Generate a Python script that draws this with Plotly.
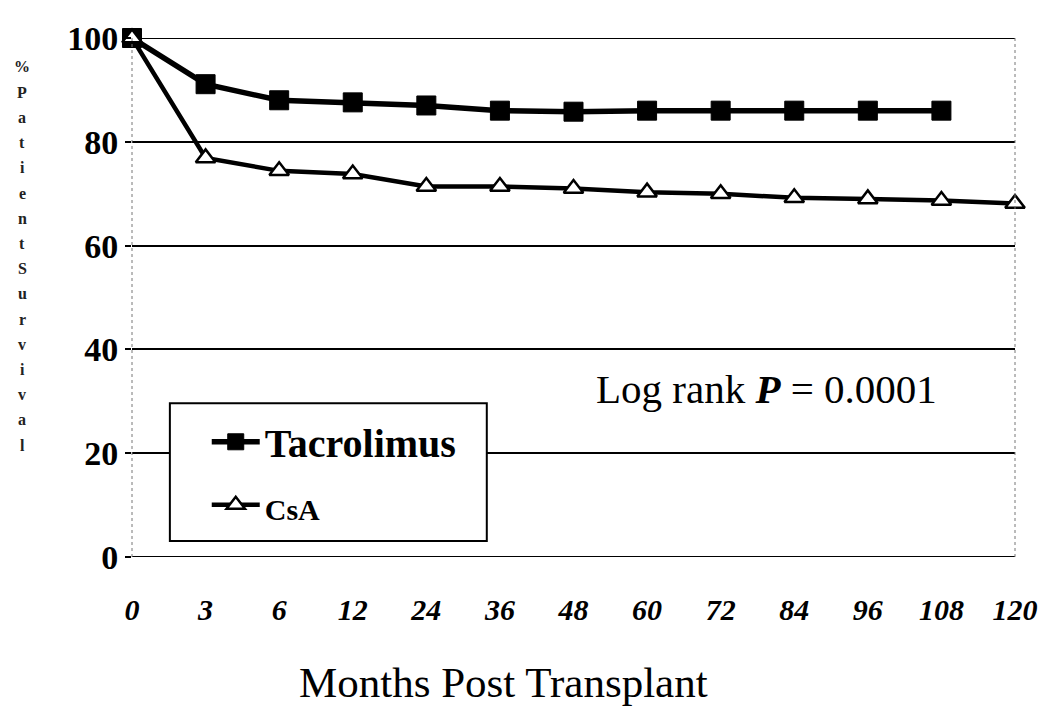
import plotly.graph_objects as go

months = ["0", "3", "6", "12", "24", "36", "48", "60", "72", "84", "96", "108", "120"]
tacrolimus = [100, 91.1, 88.0, 87.6, 87.0, 86.0, 85.8, 86.0, 86.0, 86.0, 86.0, 86.0]
csa = [100, 76.9, 74.4, 73.8, 71.4, 71.4, 71.0, 70.3, 70.0, 69.2, 69.0, 68.7, 68.1]
y_ticks = [0, 20, 40, 60, 80, 100]
y_label = "%PatientSurvival"

SERIF = "Liberation Serif, Times New Roman, serif"

# page body has an 8px default margin; geometry is compensated for it
OFF = 8
PL, PT, PR, PB = 132, 37, 1018, 557   # plot area in window pixels
W, H = 1050 - OFF, 710 - OFF


def px_x(p):
    return (p - PL) / (PR - PL)


def px_y(p):
    return (PB - p) / (PB - PT)


fig = go.Figure()
fig.add_trace(go.Scatter(
    x=months[:len(tacrolimus)], y=tacrolimus, name="<b>Tacrolimus</b>",
    mode="lines+markers", cliponaxis=False, legendgroup="a",
    line=dict(color="black", width=5.5),
    marker=dict(symbol="square", size=19, color="black", line=dict(color="black", width=1)),
))
fig.add_trace(go.Scatter(
    x=months, y=csa, name="<b><span style='font-size:30px'>CsA</span></b>",
    mode="lines+markers", cliponaxis=False, legendgroup="b",
    line=dict(color="black", width=4.5),
    marker=dict(symbol="triangle-up", size=17, color="white", line=dict(color="black", width=2.5)),
))

annotations = []
n = len(y_label)
top_px, bot_px = 66, 445
for i, ch in enumerate(y_label):
    p = top_px + (bot_px - top_px) * i / (n - 1)
    annotations.append(dict(
        x=px_x(22), y=px_y(p), xref="paper", yref="paper", text="<b>%s</b>" % ch,
        showarrow=False, font=dict(family=SERIF, size=16, color="#222222"),
        xanchor="center", yanchor="middle"))

annotations.append(dict(
    x=px_x(596), y=px_y(389), xref="paper", yref="paper",
    text="Log rank <b><i>P</i></b> = 0.0001", showarrow=False,
    font=dict(family=SERIF, size=41, color="black"), xanchor="left", yanchor="middle"))
annotations.append(dict(
    x=px_x(505), y=px_y(683), xref="paper", yref="paper",
    text="Months Post Transplant", showarrow=False,
    font=dict(family=SERIF, size=43, color="black"), xanchor="center", yanchor="middle"))

shapes = [
    dict(type="line", xref="paper", yref="paper", x0=0, x1=0, y0=0, y1=1,
         line=dict(color="#777777", width=1, dash="dot")),
    dict(type="line", xref="paper", yref="paper", x0=1, x1=1, y0=0, y1=1,
         line=dict(color="#777777", width=1, dash="dot")),
]
for v in (y_ticks[0], y_ticks[-1]):
    shapes.append(dict(type="line", xref="paper", yref="y", x0=0, x1=1, y0=v, y1=v,
                       line=dict(color="black", width=2), layer="below"))
# legend box (covers the gridline behind it)
shapes.append(dict(type="rect", xref="paper", yref="paper",
                   x0=px_x(170), x1=px_x(488), y0=px_y(541), y1=px_y(403),
                   fillcolor="white", line=dict(color="black", width=2), layer="above"))

fig.update_layout(
    width=W, height=H,
    margin=dict(l=PL - OFF, r=W + OFF - PR, t=PT - OFF, b=H + OFF - PB),
    paper_bgcolor="white", plot_bgcolor="white",
    showlegend=True,
    legend=dict(
        x=px_x(207), y=px_y(409), xanchor="left", yanchor="top",
        bgcolor="rgba(0,0,0,0)", borderwidth=0,
        font=dict(family=SERIF, size=40, color="black"),
        itemwidth=48, tracegroupgap=8,
    ),
    annotations=annotations,
    shapes=shapes,
    xaxis=dict(
        type="category", categoryorder="array", categoryarray=months,
        range=[0, 12], showgrid=False, zeroline=False, showline=False,
        ticks="", tickfont=dict(family=SERIF, size=30, color="black", weight="bold", style="italic"),
        ticklabelstandoff=32,
    ),
    yaxis=dict(
        range=[0, 100], tickvals=y_ticks, ticktext=[str(v) for v in y_ticks],
        showgrid=True, gridcolor="black", gridwidth=2, zeroline=False,
        showline=False, ticks="outside", ticklen=6, tickwidth=2, tickcolor="black",
        tickfont=dict(family=SERIF, size=34, color="black", weight="bold"),
    ),
)

fig.write_html("out.html")
